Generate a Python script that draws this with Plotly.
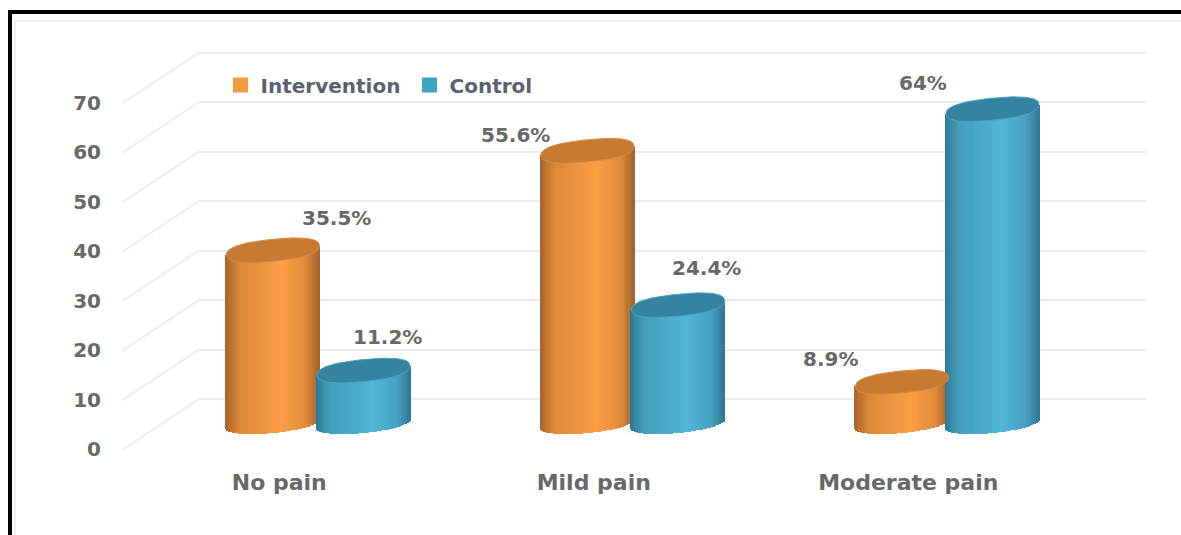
import numpy as np
import plotly.graph_objects as go

# ---- data ----
categories = ["No pain", "Mild pain", "Moderate pain"]
intervention = [35.5, 55.6, 8.9]
control = [11.2, 24.4, 64]
intervention_labels = ["35.5%", "55.6%", "8.9%"]
control_labels = ["11.2%", "24.4%", "64%"]
y_ticks = [0, 10, 20, 30, 40, 50, 60, 70]

# ---- geometry / style ----
W, H = 1181, 535
SCALE = 4.95            # px per value unit
TOP, BOTTOM = 20, 467   # plot domain, px from top
ZERO_LABEL = 449        # px of the "0" tick label
ZERO_WALL = 399         # px of the back wall's zero line
ZERO_MARK = 426         # px of the cylinder top reference
LEFT = 102
CAT_PX, CAT0 = 314.5, 318.25
BAR_DX = 0.144
HALF_W = 46.5 / CAT_PX
CAP_B = 11 / SCALE
BASE_B = 8.5 / SCALE
BASE_LIFT = 1.5 / SCALE
CAP_K = 4.5 / SCALE
N_SLICES = 56
TXT = "#686868"
FONT = "DejaVu Sans"
GRID = "#ebebeb"

ORANGE = dict(stops=["#a8642a", "#dc8838", "#fb9e45", "#e08b3a", "#a5652b"], cap="#c67a32", rim="#d68a40", name="#f59a42")
BLUE = dict(stops=["#2d7893", "#449fbd", "#50b5d6", "#45a2c0", "#2f7b96"], cap="#35849f", rim="#4aa3c0", name="#3fa5c4")
STOPS_T = [-1, -0.72, 0.2, 0.72, 1]


def hex2rgb(c):
    return np.array([int(c[i:i + 2], 16) for i in (1, 3, 5)], float)


def shade(stops, t):
    arr = np.array([hex2rgb(s) for s in stops])
    rgb = [np.interp(t, STOPS_T, arr[:, k]) for k in range(3)]
    return "rgb(%d,%d,%d)" % tuple(int(round(v)) for v in rgb)


def axis_range(zero_px):
    return [(zero_px - BOTTOM) / SCALE, (zero_px - TOP) / SCALE]


fig = go.Figure()


def cylinder(cx, value, style):
    edges = -np.cos(np.linspace(0, np.pi, N_SLICES + 1))
    t = (edges[1:] + edges[:-1]) / 2
    w = (edges[1:] - edges[:-1]) * HALF_W
    xs = cx + t * HALF_W
    base = BASE_LIFT + CAP_K * t - BASE_B * np.sqrt(1 - t ** 2)
    top = value + CAP_K * t
    fig.add_trace(go.Bar(
        x=xs, y=top - base, base=base, xaxis="x2", yaxis="y2",
        width=np.maximum(w * 1.3, 1.2 / CAT_PX),
        marker=dict(color=[shade(style["stops"], v) for v in t], line=dict(width=0)),
        showlegend=False, hoverinfo="skip"))
    th = np.linspace(0, 2 * np.pi, 96)
    ex = np.sign(np.cos(th)) * np.abs(np.cos(th)) ** 0.82
    ey = np.sign(np.sin(th)) * np.abs(np.sin(th)) ** 0.82
    fig.add_trace(go.Scatter(
        x=cx + HALF_W * ex,
        y=value + CAP_K * ex + CAP_B * ey,
        xaxis="x2", yaxis="y2", mode="lines", fill="toself",
        fillcolor=style["cap"], line=dict(color=style["rim"], width=1),
        showlegend=False, hoverinfo="skip"))


# empty trace so that the wall subplot exists
fig.add_trace(go.Scatter(x=[None], y=[None], showlegend=False, hoverinfo="skip"))

# floor diagonals, from each tick label level up to the wall line
DIAG_X = [(122 - CAT0) / CAT_PX, (199 - CAT0) / CAT_PX]
shift = (ZERO_LABEL - ZERO_WALL) / SCALE
for v in y_ticks:
    fig.add_trace(go.Scatter(
        x=DIAG_X, y=[v - 0.2, v + shift], xaxis="x2", yaxis="y3", mode="lines",
        line=dict(color=GRID, width=1.6), showlegend=False, hoverinfo="skip"))

for i in range(len(categories)):
    cylinder(i - BAR_DX, intervention[i], ORANGE)
    cylinder(i + BAR_DX, control[i], BLUE)

# legend entries
fig.add_trace(go.Scatter(x=[None], y=[None], xaxis="x2", yaxis="y2", mode="markers", name="Intervention",
                         marker=dict(symbol="square", size=15, color=ORANGE["name"])))
fig.add_trace(go.Scatter(x=[None], y=[None], xaxis="x2", yaxis="y2", mode="markers", name="Control",
                         marker=dict(symbol="square", size=15, color=BLUE["name"])))

# value labels: (dx, dy) in px from the top of the cylinder
offsets_i = [(64, 32), (-72, 16), (-71, 23)]
offsets_c = [(24, 34), (28, 37), (-70, 26)]
anns = []
for i in range(len(categories)):
    for cx, val, lab, off in ((i - BAR_DX, intervention[i], intervention_labels[i], offsets_i[i]),
                              (i + BAR_DX, control[i], control_labels[i], offsets_c[i])):
        anns.append(dict(x=cx, y=val, xref="x2", yref="y2", text=lab, showarrow=False,
                         xshift=off[0], yshift=off[1], font=dict(family=FONT, size=20, color=TXT, weight="bold")))

fig.update_layout(
    width=W, height=H, margin=dict(l=0, r=0, t=0, b=0),
    paper_bgcolor="white", plot_bgcolor="rgba(0,0,0,0)",
    barmode="overlay", bargap=0,
    font=dict(family=FONT, color=TXT),
    annotations=anns,
    xaxis=dict(domain=[199 / W, 1146 / W], range=[0, 1], visible=False, anchor="y"),
    yaxis=dict(domain=[1 - BOTTOM / H, 1 - TOP / H], range=axis_range(ZERO_WALL), anchor="x",
               tickvals=y_ticks, showticklabels=False, showgrid=True, gridcolor=GRID, gridwidth=2,
               zeroline=False, showline=False, ticks=""),
    xaxis2=dict(domain=[LEFT / W, 1], range=[(LEFT - CAT0) / CAT_PX, (W - CAT0) / CAT_PX], anchor="y3",
                tickmode="array", tickvals=[i - 0.124 for i in range(len(categories))], ticktext=categories,
                tickfont=dict(family=FONT, size=22, color=TXT, weight="bold"),
                showgrid=False, zeroline=False, showline=False, ticks=""),
    yaxis3=dict(domain=[1 - BOTTOM / H, 1 - TOP / H], range=axis_range(ZERO_LABEL), anchor="x2",
                tickmode="array", tickvals=y_ticks, ticktext=[str(v) for v in y_ticks],
                tickfont=dict(family=FONT, size=20, color=TXT, weight="bold"),
                showgrid=False, zeroline=False, showline=False, ticks=""),
    yaxis2=dict(domain=[1 - BOTTOM / H, 1 - TOP / H], range=axis_range(ZERO_MARK), anchor="x2",
                overlaying="y3", visible=False),
    legend=dict(orientation="h", x=220.5 / W, y=1 - 85 / H, xanchor="left", yanchor="middle",
                entrywidth=144, entrywidthmode="pixels",
                bgcolor="rgba(0,0,0,0)", font=dict(family=FONT, size=20, color="#5a6270", weight="bold")),
    shapes=[
        dict(type="rect", xref="paper", yref="paper", x0=15 / W, x1=1.01, y0=-0.01, y1=1 - 21 / H,
             line=dict(color="#ececec", width=1.5), fillcolor="rgba(0,0,0,0)", layer="below"),
        dict(type="rect", xref="paper", yref="paper", x0=8 / W, x1=1.01, y0=1 - 14 / H, y1=1 - 10 / H,
             line=dict(width=0), fillcolor="black"),
        dict(type="rect", xref="paper", yref="paper", x0=8 / W, x1=12 / W, y0=-0.01, y1=1 - 10 / H,
             line=dict(width=0), fillcolor="black"),
    ],
)

fig.write_html("out.html", post_script="document.body.style.margin='0';", config={"displayModeBar": False})
